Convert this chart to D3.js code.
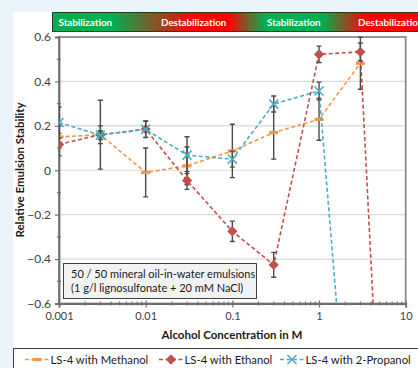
<!DOCTYPE html>
<html>
<head>
<meta charset="utf-8">
<script src="https://cdn.jsdelivr.net/npm/d3@7"></script>
<style>
  html, body { margin: 0; padding: 0; background: #e9f4fb; }
  svg { display: block; font-family: Lato, "Open Sans", "Noto Sans", sans-serif; }
</style>
</head>
<body>
<svg id="chart" width="418" height="368"></svg>
<script>
// Alcohol concentrations (M) at which stability was measured
const concentrations = [0.001, 0.003, 0.01, 0.03, 0.1, 0.3, 1, 3];
const ethanolConc = [0.001, 0.003, 0.01, 0.03, 0.1, 0.3, 1, 3, 10];
const propanolConc = [0.001, 0.003, 0.01, 0.03, 0.1, 0.3, 1, 3];

// Relative emulsion stability and its error per series
const methanolValues = [0.15, 0.16, -0.01, 0.02, 0.087, 0.17, 0.229, 0.482];
const methanolErrors = [0.05, 0.155, 0.11, 0.085, 0.12, 0.12, 0.094, 0.117];
const ethanolValues = [0.116, 0.16, 0.185, -0.046, -0.275, -0.426, 0.522, 0.533, -3.5];
const ethanolErrors = [0.05, 0.04, 0.037, 0.04, 0.046, 0.056, 0.037, 0.04, 0];
const propanolValues = [0.215, 0.158, 0.184, 0.068, 0.05, 0.298, 0.357, -1.9];
const propanolErrors = [0.07, 0.02, 0.037, 0.083, 0.036, 0.036, 0.04, 0];

const seriesNames = ["LS-4 with Methanol", "LS-4 with Ethanol", "LS-4 with 2-Propanol"];
const seriesColors = ["#f79646", "#c0504d", "#4bacc6"];
const markerTypes = ["dash", "diamond", "cross"];

const yTicks = [0.6, 0.4, 0.2, 0, -0.2, -0.4, -0.6];
const xTicks = [0.001, 0.01, 0.1, 1, 10];
const xTickLabels = ["0.001", "0.01", "0.1", "1", "10"];
const bannerLabels = ["Stabilization", "Destabilization", "Stabilization", "Destabilization"];
const noteLines = ["50 / 50 mineral oil-in-water emulsions", "(1 g/l lignosulfonate + 20 mM NaCl)"];

const series = [
  { x: concentrations, y: methanolValues, e: methanolErrors },
  { x: ethanolConc, y: ethanolValues, e: ethanolErrors },
  { x: propanolConc, y: propanolValues, e: propanolErrors }
].map((s, i) => ({
  name: seriesNames[i], color: seriesColors[i], marker: markerTypes[i],
  points: s.x.map((c, j) => ({ c, v: s.y[j], e: s.e[j] }))
}));

const svg = d3.select("#chart");
const plotLeft = 59, plotRight = 405.7, plotTop = 37, plotBottom = 303.5;

const x = d3.scaleLog().domain([0.001, 10]).range([plotLeft, plotRight]);
const y = d3.scaleLinear().domain([-0.6, 0.6]).range([plotBottom, plotTop]);

// white card
svg.append("rect").attr("x", 13).attr("y", 12).attr("width", 405).attr("height", 356).attr("fill", "#fff");

// stabilization banner
const defs = svg.append("defs");
const grad = defs.append("linearGradient").attr("id", "bannerGrad")
  .attr("gradientUnits", "userSpaceOnUse").attr("x1", 52).attr("x2", 418).attr("y1", 0).attr("y2", 0);
[[52, "#00b050"], [112, "#00b050"], [195, "#ff0000"], [228, "#ff0000"], [265, "#00b050"],
 [322, "#00b050"], [366, "#ff0000"], [418, "#ff0000"]].forEach(([px, col]) => {
  grad.append("stop").attr("offset", ((px - 52) / (418 - 52) * 100) + "%").attr("stop-color", col);
});
svg.append("rect").attr("x", 52.5).attr("y", 12.5).attr("width", 370).attr("height", 19)
  .attr("fill", "url(#bannerGrad)").attr("stroke", "#2a3a2a").attr("stroke-width", 1);
const bannerX = [58.5, 161, 267, 358];
bannerLabels.forEach((t, i) => {
  svg.append("text").attr("x", bannerX[i]).attr("y", 25.5).attr("fill", "#fff")
    .attr("font-size", 9.8).attr("font-weight", "bold").text(t);
});

// gridlines
svg.append("g").selectAll("line").data(yTicks.filter(t => t !== 0.6 && t !== -0.6)).join("line")
  .attr("x1", plotLeft).attr("x2", plotRight).attr("y1", d => y(d)).attr("y2", d => y(d))
  .attr("stroke", "#d9d9d9").attr("stroke-width", 1.2);

// plot frame
svg.append("rect").attr("x", plotLeft).attr("y", plotTop).attr("width", plotRight - plotLeft).attr("height", plotBottom - plotTop)
  .attr("fill", "none").attr("stroke", "#8c8c8c").attr("stroke-width", 1.8);

// y axis
const yAxis = svg.append("g").attr("transform", `translate(${plotLeft},0)`)
  .call(d3.axisLeft(y).tickValues(yTicks).tickSize(4).tickFormat(d3.format("")));
yAxis.select(".domain").attr("stroke", "#6e6e6e").attr("stroke-width", 1.8);
yAxis.selectAll(".tick line").attr("stroke", "#6e6e6e").attr("stroke-width", 1.2);
yAxis.selectAll(".tick text").attr("font-size", 12).attr("fill", "#404040").attr("x", -8)
  .attr("font-family", "Lato, sans-serif");
// y minor ticks
svg.append("g").selectAll("line").data([0.5, 0.3, 0.1, -0.1, -0.3, -0.5]).join("line")
  .attr("x1", plotLeft - 2).attr("x2", plotLeft + 2).attr("y1", d => y(d)).attr("y2", d => y(d))
  .attr("stroke", "#6e6e6e").attr("stroke-width", 1.2);

// x axis
const xAxis = svg.append("g").attr("transform", `translate(0,${plotBottom})`)
  .call(d3.axisBottom(x).tickValues(xTicks).tickSize(4).tickFormat((d, i) => xTickLabels[i]));
xAxis.select(".domain").attr("stroke", "#6e6e6e").attr("stroke-width", 1.8);
xAxis.selectAll(".tick line").attr("stroke", "#6e6e6e").attr("stroke-width", 1.2).attr("y1", -3);
xAxis.selectAll(".tick text").attr("font-size", 11).attr("fill", "#404040").attr("y", 9)
  .attr("font-family", "Lato, sans-serif");
// x minor ticks
const minor = [];
[0.001, 0.01, 0.1, 1].forEach(dec => { for (let k = 2; k <= 9; k++) minor.push(dec * k); });
svg.append("g").selectAll("line").data(minor).join("line")
  .attr("x1", d => x(d)).attr("x2", d => x(d)).attr("y1", plotBottom - 2).attr("y2", plotBottom + 2)
  .attr("stroke", "#6e6e6e").attr("stroke-width", 1.1);

// axis titles
svg.append("text").attr("x", 232).attr("y", 339).attr("text-anchor", "middle")
  .attr("font-size", 11.5).attr("font-weight", "bold").attr("fill", "#1a1a1a")
  .text("Alcohol Concentration in M");
svg.append("text").attr("transform", "translate(24,170) rotate(-90)").attr("text-anchor", "middle")
  .attr("font-size", 11.5).attr("font-weight", "bold").attr("fill", "#1a1a1a")
  .text("Relative Emulsion Stability");

// clipping to plot area
defs.append("clipPath").attr("id", "plotClip").append("rect")
  .attr("x", plotLeft).attr("y", plotTop - 6).attr("width", plotRight - plotLeft).attr("height", plotBottom - plotTop + 6);

function drawMarker(g, type, color, cx, cy) {
  if (type === "dash") {
    g.append("rect").attr("x", cx - 4.5).attr("y", cy - 1.6).attr("width", 9).attr("height", 3.2).attr("fill", color);
  } else if (type === "diamond") {
    g.append("path").attr("d", `M${cx},${cy - 4.3}L${cx + 4.3},${cy}L${cx},${cy + 4.3}L${cx - 4.3},${cy}Z`)
      .attr("fill", color).attr("stroke", color).attr("stroke-width", 1.2).attr("stroke-linejoin", "round");
  } else {
    g.append("path").attr("d", `M${cx - 4.5},${cy - 4.5}L${cx + 4.5},${cy + 4.5}M${cx - 4.5},${cy + 4.5}L${cx + 4.5},${cy - 4.5}`)
      .attr("stroke", color).attr("stroke-width", 1.6).attr("fill", "none");
  }
}

const line = d3.line().x(d => x(d.c)).y(d => y(d.v));
const plot = svg.append("g").attr("clip-path", "url(#plotClip)");

series.forEach(s => {
  const g = plot.append("g");
  g.append("path").datum(s.points).attr("d", line).attr("fill", "none")
    .attr("stroke", s.color).attr("stroke-width", 1.6).attr("stroke-dasharray", "4,2.5");
  // error bars
  s.points.filter(p => p.e > 0).forEach(p => {
    const px = x(p.c), y1 = y(p.v + p.e), y2 = y(p.v - p.e);
    g.append("line").attr("x1", px).attr("x2", px).attr("y1", y1).attr("y2", y2)
      .attr("stroke", "#4a4a4a").attr("stroke-width", 1.4);
    [y1, y2].forEach(yy => g.append("line").attr("x1", px - 2.5).attr("x2", px + 2.5).attr("y1", yy).attr("y2", yy)
      .attr("stroke", "#4a4a4a").attr("stroke-width", 1.4));
  });
  s.points.filter(p => p.v >= -0.6 && p.v <= 0.6).forEach(p => drawMarker(g, s.marker, s.color, x(p.c), y(p.v)));
});

// note box
svg.append("rect").attr("x", 63.5).attr("y", 263.5).attr("width", 193).attr("height", 35)
  .attr("fill", "#f2f2f2").attr("stroke", "#404040").attr("stroke-width", 1);
noteLines.forEach((t, i) => {
  svg.append("text").attr("x", 71).attr("y", 278 + i * 14).attr("font-size", 11)
    .attr("fill", "#1a1a1a").text(t);
});

// legend
svg.append("rect").attr("x", 13.5).attr("y", 348.5).attr("width", 410).attr("height", 25)
  .attr("fill", "#fff").attr("stroke", "#404040").attr("stroke-width", 1);
const legendX = [25, 159, 280];
series.forEach((s, i) => {
  const lx = legendX[i], ly = 359.5;
  svg.append("line").attr("x1", lx).attr("x2", lx + 24).attr("y1", ly).attr("y2", ly)
    .attr("stroke", s.color).attr("stroke-width", 1.6).attr("stroke-dasharray", "4,2.5");
  const mg = svg.append("g");
  drawMarker(mg, s.marker, s.color, lx + 12, ly);
  svg.append("text").attr("x", lx + 25.5).attr("y", ly + 4).attr("font-size", 11.3).attr("fill", "#1a1a1a").text(s.name);
});
</script>
</body>
</html>
